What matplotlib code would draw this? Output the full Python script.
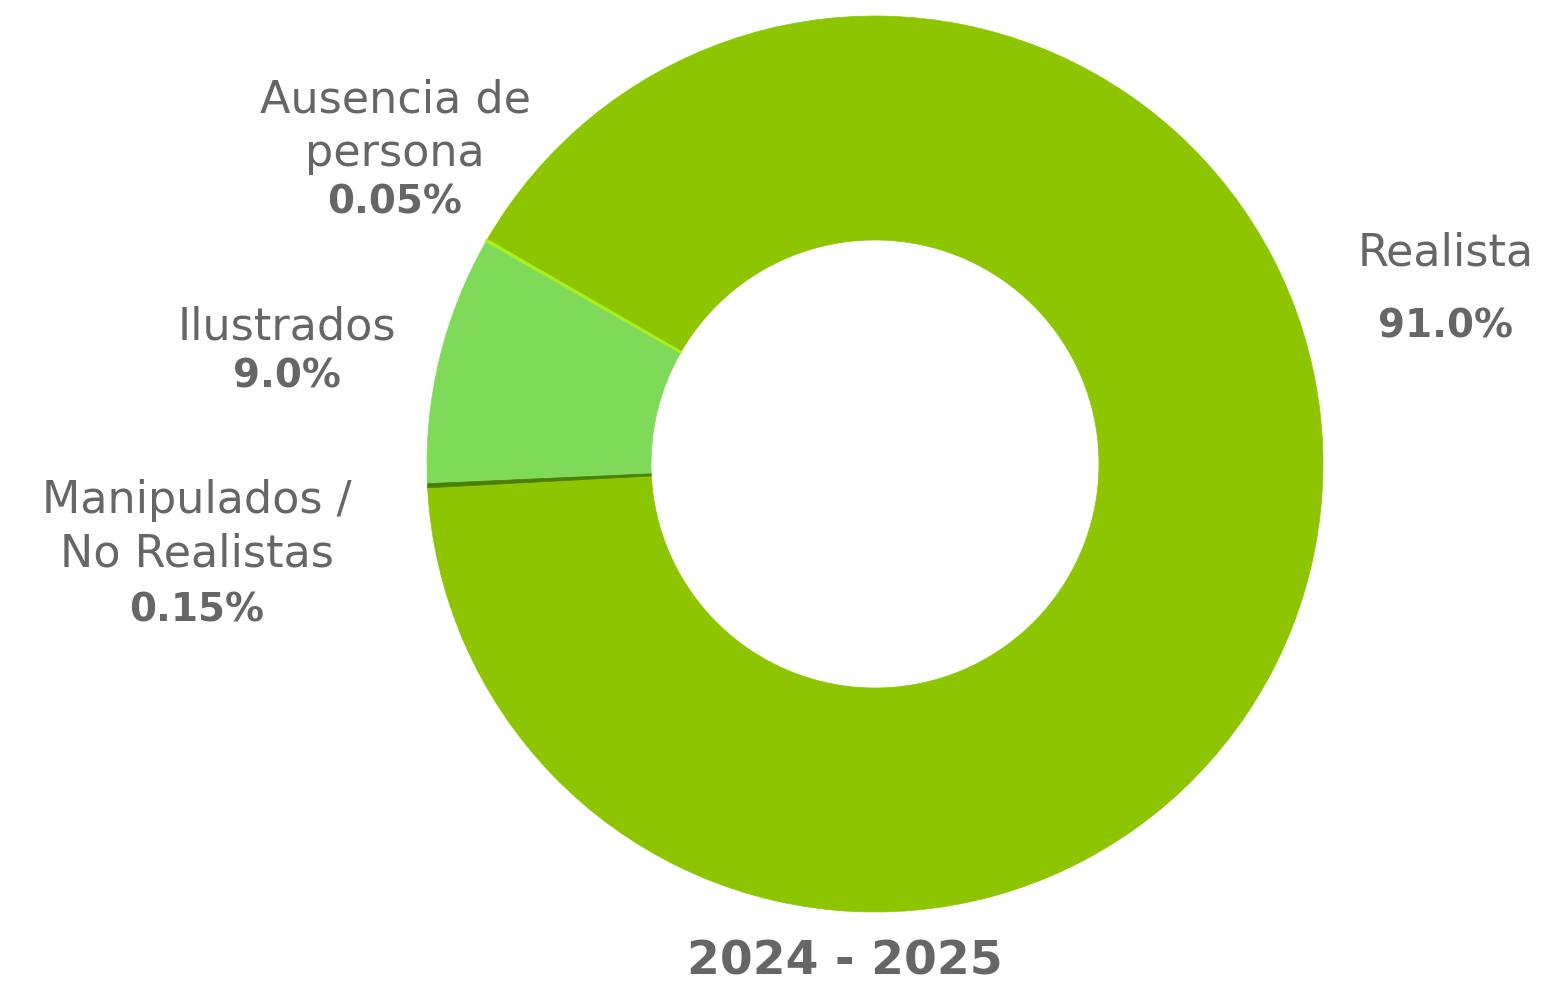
import matplotlib.pyplot as plt

# datos del grafico
categorias = ["Ausencia de\npersona", "Ilustrados", "Manipulados /\nNo Realistas", "Realista"]
valores = [0.05, 9.0, 0.15, 91.0]
etiquetas_pct = ["0.05%", "9.0%", "0.15%", "91.0%"]
colores = ["#A8F020", "#80DA5A", "#4A7D00", "#8DC600"]
titulo = "2024 - 2025"

W, H = 1552, 984
gris = "#666666"

fig = plt.figure(figsize=(W / 100, H / 100), dpi=100)
ax = fig.add_axes([0, 0, 1, 1])

ax.pie(valores, colors=colores, startangle=150, counterclock=True,
       center=(875, H - 464), radius=448,
       wedgeprops=dict(width=224, linewidth=0.5))
for w, c in zip(ax.patches, colores):
    w.set_edgecolor(c)
# las porciones pequenas por encima para que se vean
ax.patches[0].set_linewidth(1.6)
ax.patches[0].set_zorder(5)
ax.patches[2].set_zorder(5)

ax.set_xlim(0, W)
ax.set_ylim(0, H)
ax.set_aspect("equal")
ax.axis("off")

# posiciones de las etiquetas (pixeles de la imagen)
pos_nombre = [(395, 127), (287, 327), (197, 527), (1446, 253)]
pos_pct = [(395, 203), (287, 376), (197, 611), (1446, 327)]

for nombre, pct, (xn, yn), (xp, yp) in zip(categorias, etiquetas_pct, pos_nombre, pos_pct):
    ax.text(xn, H - yn, nombre, ha="center", va="center", fontsize=32,
            color=gris, family="DejaVu Sans", linespacing=1.3)
    ax.text(xp, H - yp, pct, ha="center", va="center", fontsize=28,
            color=gris, family="DejaVu Sans", fontweight="bold")

ax.text(845, H - 962, titulo, ha="center", va="center", fontsize=34,
        color=gris, family="DejaVu Sans", fontweight="bold")

fig.savefig("out.png", dpi=100)
